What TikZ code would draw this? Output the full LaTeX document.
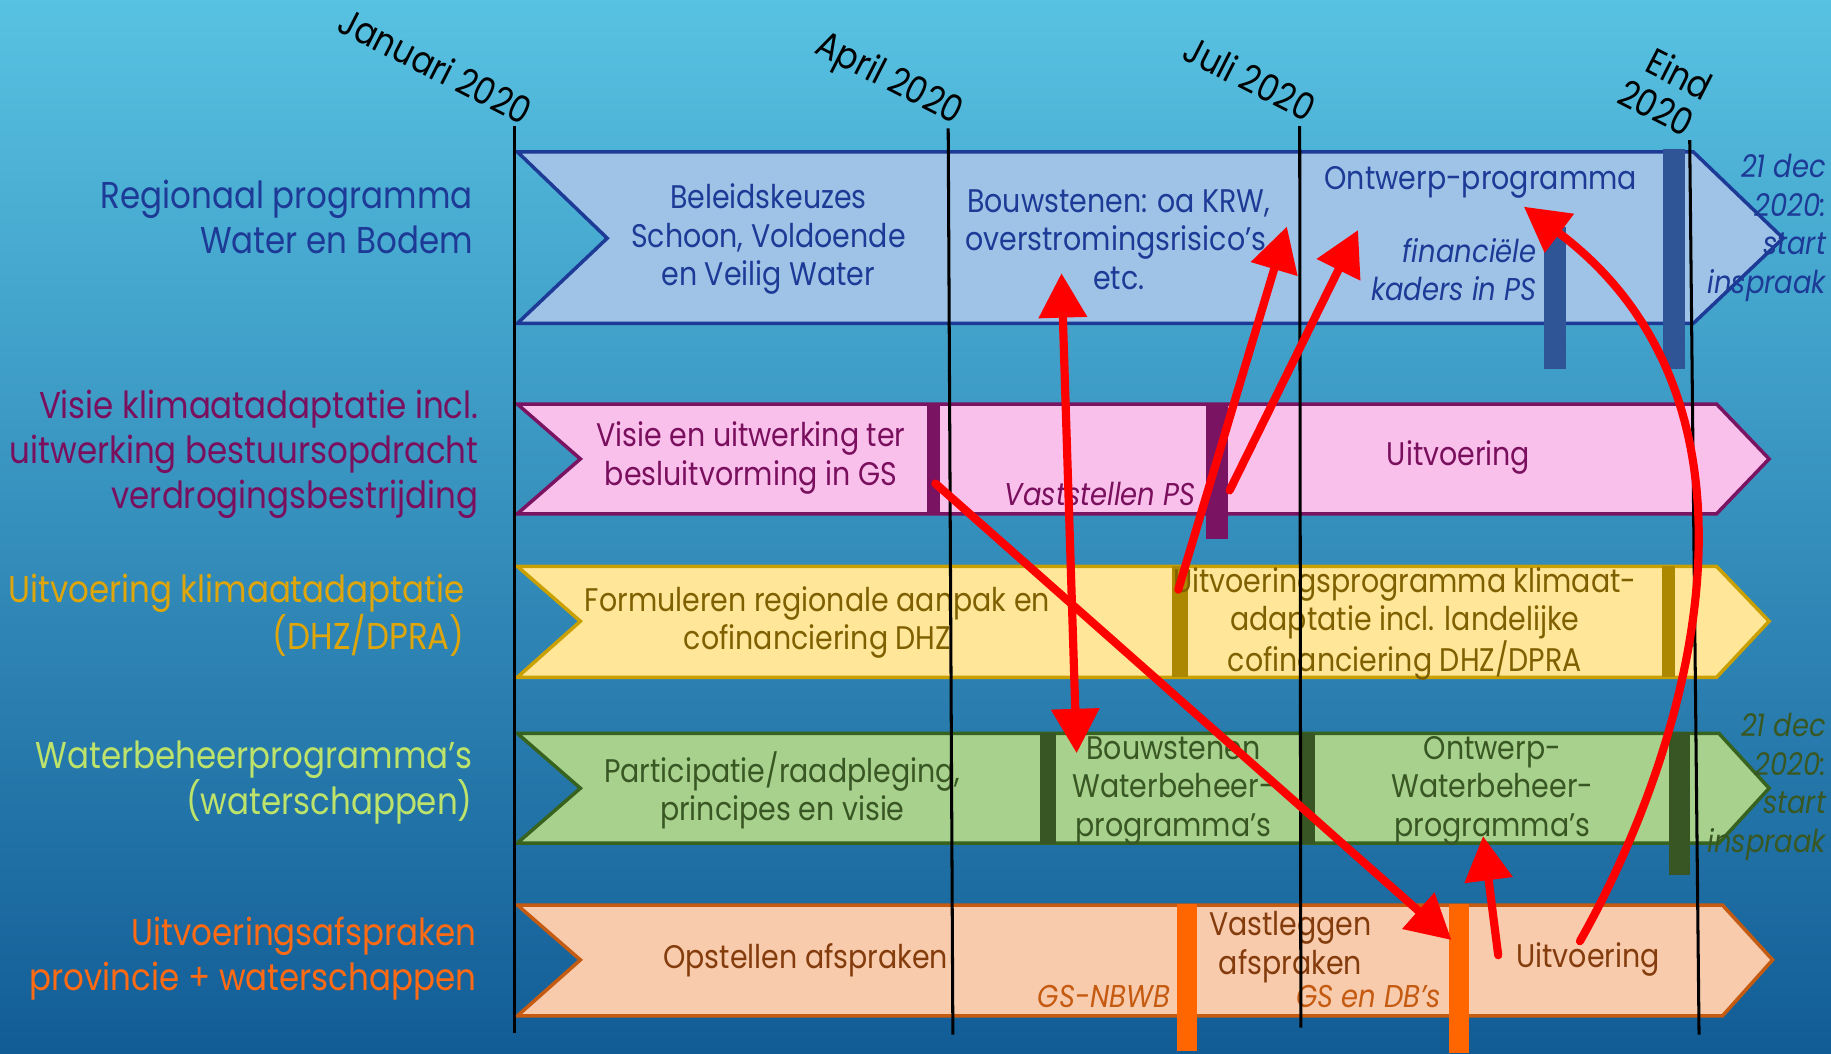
\documentclass[tikz,border=0pt]{standalone}
\usepackage{fontspec}
\setmainfont{Poppins}[FakeStretch=0.87]
\usetikzlibrary{arrows.meta}
\definecolor{bgtop}{RGB}{88,194,226}
\definecolor{bgmid}{RGB}{50,150,200}
\definecolor{bgbot}{RGB}{18,92,150}
\definecolor{bluefill}{RGB}{158,195,230}
\definecolor{blueline}{RGB}{28,58,150}
\definecolor{bluemk}{RGB}{47,85,151}
\definecolor{pinkfill}{RGB}{250,192,236}
\definecolor{pinkline}{RGB}{122,20,98}
\definecolor{pinktext}{RGB}{122,15,94}
\definecolor{yelfill}{RGB}{255,230,153}
\definecolor{yelline}{RGB}{201,160,0}
\definecolor{yeltext}{RGB}{127,96,0}
\definecolor{yellbl}{RGB}{222,166,10}
\definecolor{grnfill}{RGB}{169,209,142}
\definecolor{grnline}{RGB}{56,99,30}
\definecolor{grntext}{RGB}{56,87,35}
\definecolor{grnmk}{RGB}{55,86,35}
\definecolor{grnlbl}{RGB}{190,227,106}
\definecolor{orfill}{RGB}{248,203,173}
\definecolor{orline}{RGB}{197,90,17}
\definecolor{ortext}{RGB}{132,60,12}
\definecolor{ormk}{RGB}{255,102,0}
\definecolor{orlbl}{RGB}{255,106,19}
\definecolor{arrred}{RGB}{255,0,0}
\begin{document}
\begin{tikzpicture}[x=1pt,y=-1pt,
  barshape/.style={line width=3pt,line join=miter},
  vline/.style={black,line width=2.6pt},
  month/.style={font=\fontsize{32}{36}\selectfont,text=black,inner sep=0pt},
  bartext/.style={font=\fontsize{28}{33}\selectfont,align=center,inner sep=0pt},
  itext/.style={font=\fontsize{27}{33}\selectfont\itshape,align=right,inner sep=0pt},
  lbl/.style={font=\fontsize{32}{38.5}\selectfont,align=right,inner sep=0pt},
  redarrow/.style={arrred,line width=7pt,line cap=round,-{Triangle[length=38pt,width=40pt]}}
]
\useasboundingbox (0,0) rectangle (1568,902);
% background
\shade[top color=bgtop,middle color=bgmid,bottom color=bgbot] (0,0) rectangle (1568,902);

% bars
\filldraw[barshape,fill=bluefill,draw=blueline] (443,130) -- (1450,130) -- (1527,204) -- (1450,277) -- (443,277) -- (520,204) -- cycle;
\filldraw[barshape,fill=pinkfill,draw=pinkline] (443,346) -- (1470,346) -- (1515,393) -- (1470,440) -- (443,440) -- (497,393) -- cycle;
\filldraw[barshape,fill=yelfill,draw=yelline] (443,485) -- (1470,485) -- (1515,532) -- (1470,580) -- (443,580) -- (497,532) -- cycle;
\filldraw[barshape,fill=grnfill,draw=grnline] (443,628) -- (1472,628) -- (1515,675) -- (1472,722) -- (443,722) -- (497,675) -- cycle;
\filldraw[barshape,fill=orfill,draw=orline] (443,775) -- (1475,775) -- (1518,822) -- (1475,870) -- (443,870) -- (497,822) -- cycle;

% markers
\fill[bluemk] (1322,194) rectangle (1341,316);
\fill[bluemk] (1424,128) rectangle (1443,316);
\fill[pinkline] (794,345) rectangle (805,440);
\fill[pinkline] (1033,345) rectangle (1052,462);
\fill[yelline!85!black] (1004,485) rectangle (1017,580);
\fill[yelline!85!black] (1423,485) rectangle (1434,580);
\fill[grnmk] (891,628) rectangle (904,723);
\fill[grnmk] (1115,628) rectangle (1126,723);
\fill[grnmk] (1429,627) rectangle (1447,749);
\fill[ormk] (1008,774) rectangle (1025,900);
\fill[ormk] (1241,774) rectangle (1258,902);

% row labels
\node[lbl,text=blueline,anchor=east] (l1) at (405,186) {Regionaal programma\\Water en Bodem};
\node[lbl,text=pinktext,anchor=east] (l2) at (410,389) {Visie klimaatadaptatie incl.\\uitwerking bestuursopdracht\\verdrogingsbestrijding};
\node[lbl,text=yellbl,anchor=east] (l3) at (398,527) {Uitvoering klimaatadaptatie\\(DHZ/DPRA)};
\node[lbl,text=grnlbl,anchor=east] (l4) at (405,670) {Waterbeheerprogramma’s\\(waterschappen)};
\node[lbl,text=orlbl,anchor=east] (l5) at (408,821) {Uitvoeringsafspraken\\provincie + waterschappen};

% row 1 texts
\node[bartext,text=blueline] (t11) at (658,205) {Beleidskeuzes\\Schoon, Voldoende\\en Veilig Water};
\node[bartext,text=blueline] (t12) at (958,205) {Bouwstenen: oa KRW,\\overstromingsrisico’s,\\etc.};
\node[bartext,text=blueline] (t13) at (1268,156) {Ontwerp-programma};
\node[itext,text=blueline,anchor=east] (t14) at (1316,231) {financiële\\kaders in PS};
\node[itext,text=blueline,anchor=east] (t15) at (1564,195) {21 dec\\2020:\\start\\inspraak};
% row 2 texts
\node[bartext,text=pinktext] (t21) at (643,392) {Visie en uitwerking ter\\besluitvorming in GS};
\node[itext,text=pinktext] (t22) at (942,423) {Vaststellen PS};
\node[bartext,text=pinktext] (t23) at (1249,392) {Uitvoering};
% row 3 texts
\node[bartext,text=yeltext] (t31) at (700,533) {Formuleren regionale aanpak en\\cofinanciering DHZ};
\node[bartext,text=yeltext] (t32) at (1203,534) {Uitvoeringsprogramma klimaat-\\adaptatie incl. landelijke\\cofinanciering DHZ/DPRA};
% row 4 texts
\node[bartext,text=grntext] (t41) at (670,677) {Participatie/raadpleging,\\principes en visie};
\node[bartext,text=grntext] (t42) at (1005,677) {Bouwstenen\\Waterbeheer-\\programma’s};
\node[bartext,text=grntext] (t43) at (1278,677) {Ontwerp-\\Waterbeheer-\\programma’s};
\node[itext,text=grntext,anchor=east] (t44) at (1564,674) {21 dec\\2020:\\start\\inspraak};
% row 5 texts
\node[bartext,text=ortext] (t51) at (690,822) {Opstellen afspraken};
\node[bartext,text=ortext] (t52) at (1105,811) {Vastleggen\\afspraken};
\node[bartext,text=ortext] (t53) at (1360,822) {Uitvoering};
\node[itext,text=orline,anchor=east] (t54) at (1002,853) {GS-NBWB};
\node[itext,text=orline] (t55) at (1172,853) {GS en DB’s};

% timeline lines
\coordinate (janT) at (441,108); \coordinate (janB) at (441,885);
\coordinate (aprT) at (812,110); \coordinate (aprB) at (816,886);
\coordinate (julT) at (1113,108); \coordinate (julB) at (1114,880);
\coordinate (eindT) at (1447,120); \coordinate (eindB) at (1455,886);
\draw[vline] (janT) -- (janB);
\draw[vline] (aprT) -- (aprB);
\draw[vline] (julT) -- (julB);
\draw[vline] (eindT) -- (eindB);

% month labels
\node[month,anchor=base east,rotate=-27] (m1) at (448,108) {Januari 2020};
\node[month,anchor=base east,rotate=-27] (m2) at (818,107) {April 2020};
\node[month,anchor=base east,rotate=-27] (m3) at (1119,105) {Juli 2020};
\node[month,anchor=base east,rotate=-27] (m4a) at (1459,87) {Eind};
\node[month,anchor=base east,rotate=-27] (m4b) at (1443,118) {2020};

% red arrows
\coordinate (a1t) at (909,234); \coordinate (a1b) at (922,645);
\coordinate (a2s) at (1009,505); \coordinate (a2e) at (1102,194);
\coordinate (a3s) at (1053,420); \coordinate (a3e) at (1163,197);
\coordinate (a4s) at (801,414); \coordinate (a4e) at (1243,805);
\coordinate (a5s) at (1283,818); \coordinate (a5e) at (1270,716);
\coordinate (a6s) at (1353,806); \coordinate (a6e) at (1305,177);
\draw[redarrow,{Triangle[length=38pt,width=40pt]}-{Triangle[length=38pt,width=40pt]}] (a1t) -- (a1b);
\draw[redarrow] (a2s) -- (a2e);
\draw[redarrow] (a3s) -- (a3e);
\draw[redarrow] (a4s) -- (a4e);
\draw[redarrow] (a5s) -- (a5e);
\draw[redarrow] (a6s) .. controls (1450.6,633.2) and (1530,345.8) .. (a6e);
\end{tikzpicture}
\end{document}
